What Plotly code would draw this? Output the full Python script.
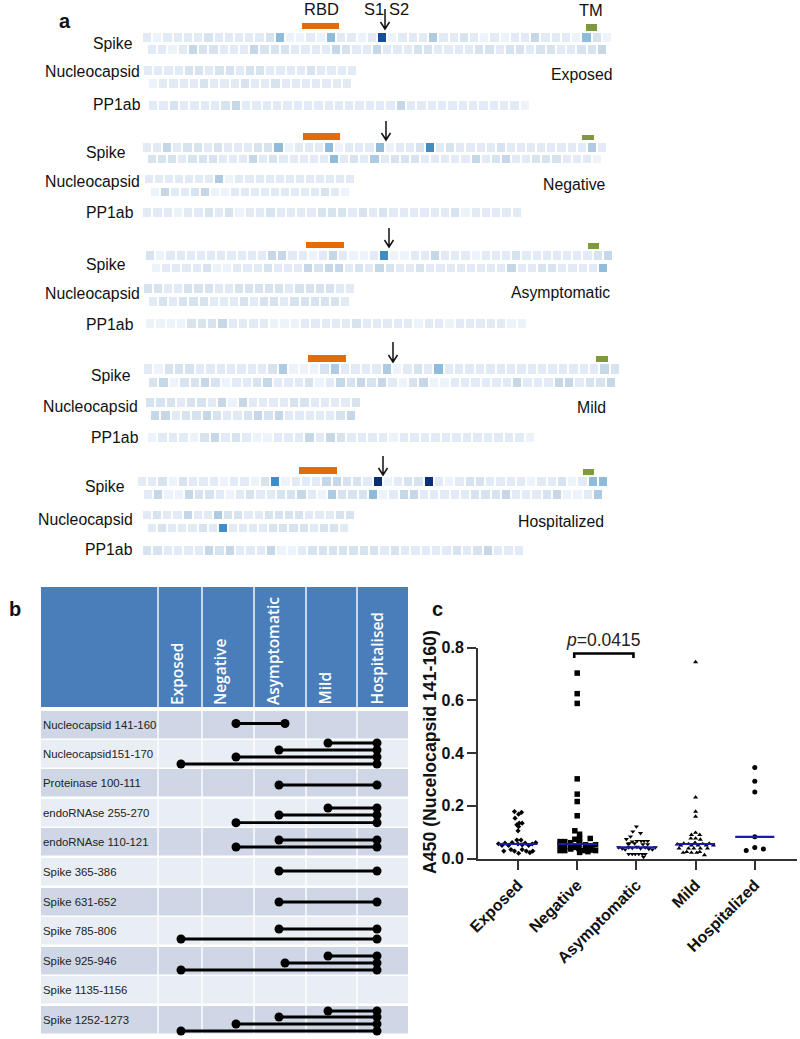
import plotly.graph_objects as go

# ---------- panel a: intensity levels (1 light .. 9 dark) ----------
exposed_spike_a = [2,1,2,2,2, 2,3,2,2,2, 2,2,3,6,1, 1,2,1,6,2, 2,1,2,8,1, 2,2,2,5,2, 2,3,2,1,2, 1,2,2,4,2, 2,2,1,6,3, 1]
exposed_spike_b = [2,2,1,2,4, 3,3,2,2,2, 4,3,3,3,2, 2,2,2,4,3, 2,2,4,2,2, 2,3,3,2,2, 2,2,3,3,2, 3,3,2,3,3, 2,2,3,3,4]
exposed_nuc_a = [2,2,2,2,3, 3,2,3,3,2, 3,3,2,2,2, 2,3,2,2,2, 2]
exposed_nuc_b = [1,2,2,2,2, 3,2,2,2,3, 2,2,3,2,2, 2,2,2,2,2]
exposed_pp = [2,2,3,2,2, 2,2,3,4,2, 2,2,2,2,2, 2,2,2,2,2, 2,2,2,2,4, 2,2,2,2,2, 2,2,2,2,2, 2,1]

negative_spike_a = [2,2,4,2,3, 3,2,3,2,2, 2,3,3,6,1, 2,2,2,6,1, 2,2,2,6,1, 2,2,3,7,2, 3,2,2,2,2, 3,2,2,2,2, 2,2,2,2,5, 2]
negative_spike_b = [3,3,3,2,3, 3,3,2,2,2, 4,2,3,2,2, 2,2,2,6,2, 3,2,5,2,3, 3,3,2,2,2, 2,2,4,2,3, 4,2,2,3,3, 3,2,2,2,1]
negative_nuc_a = [2,2,2,2,2, 2,2,5,1,2, 2,2,2,2,2, 2,2,2,2,2, 2]
negative_nuc_b = [1,4,2,2,3, 4,1,1,2,2, 2,2,2,2,2, 2,2,3,2,1]
negative_pp = [2,2,2,1,2, 2,3,2,3,1, 2,2,3,2,2, 2,2,3,3,3, 2,3,2,3,2, 2,2,2,2,2, 3,1,2,2,2, 2,2]

asympt_spike_a = [3,1,2,2,2, 2,2,2,2,2, 2,2,4,4,2, 2,1,2,4,2, 1,1,2,7,1, 1,2,2,4,2, 2,2,1,2,2, 2,3,2,2,2, 2,2,2,2,3, 4]
asympt_spike_b = [1,2,2,2,2, 3,1,1,2,2, 2,3,2,2,2, 4,3,4,4,2, 3,2,4,3,2, 2,3,2,2,2, 2,2,2,2,2, 4,2,2,3,3, 2,2,2,2,6]
asympt_nuc_a = [3,3,2,2,3, 3,3,2,2,3, 3,3,3,3,2, 3,3,3,3,2, 2]
asympt_nuc_b = [2,3,2,3,3, 3,2,2,2,3, 2,3,3,2,3, 3,3,3,3,2]
asympt_pp = [1,1,1,1,3, 3,3,4,2,2, 2,2,1,1,1, 2,2,2,2,2, 3,2,2,2,2, 2,1,2,2,1, 2,2,2,2,2, 1,1]

mild_spike_a = [2,1,3,3,3, 2,2,2,2,2, 2,2,3,5,1, 1,1,3,5,2, 2,2,2,5,1, 2,3,2,6,2, 2,2,2,2,2, 2,2,2,2,2, 2,2,2,2,4, 3]
mild_spike_b = [3,4,1,3,3, 4,3,1,2,2, 3,4,2,2,2, 3,1,2,4,3, 4,3,4,2,1, 3,4,1,1,2, 2,2,2,2,2, 4,2,2,2,4, 4,2,3,3,4]
mild_nuc_a = [3,3,3,2,3, 3,2,4,1,4, 2,2,2,2,3, 3,2,2,2,2, 3]
mild_nuc_b = [4,4,2,3,3, 4,3,2,2,3, 4,3,4,2,2, 2,2,2,3,4]
mild_pp = [1,2,2,2,1, 3,4,2,3,2, 1,1,2,2,2, 4,2,4,3,2, 2,2,2,1,2, 2,2,2,2,2, 2,2,2,2,2, 2,1]

hosp_spike_a = [2,2,3,1,3, 2,2,2,1,2, 2,1,3,7,1, 2,2,2,4,4, 3,3,2,9,1, 2,3,3,9,2, 1,2,3,3,2, 2,2,2,1,2, 2,3,1,2,6, 6]
hosp_spike_b = [2,4,1,1,4, 3,3,2,1,2, 3,2,2,3,3, 4,2,1,5,3, 3,3,6,1,2, 4,4,2,2,2, 2,2,3,3,3, 4,2,2,2,3, 4,1,1,2,5]
hosp_nuc_a = [2,3,2,2,4, 2,2,5,3,3, 2,2,3,3,3, 3,2,2,2,3, 3]
hosp_nuc_b = [2,3,2,2,2, 3,2,7,2,2, 2,2,3,3,3, 3,2,3,3,2]
hosp_pp = [3,3,2,2,2, 2,4,3,4,2, 2,2,4,1,1, 2,3,3,3,3, 3,3,3,2,3, 2,2,2,2,2, 3,2,3,4,2, 2,2]

level_colors = ["#ecf3fa", "#e2ebf5", "#d7e3ef", "#c6d7e7", "#aecbe2", "#8fbcdb", "#3f8cc6", "#164f9d", "#0b2f73"]

panel_rows = [
    [exposed_spike_a, exposed_spike_b, exposed_nuc_a, exposed_nuc_b, exposed_pp],
    [negative_spike_a, negative_spike_b, negative_nuc_a, negative_nuc_b, negative_pp],
    [asympt_spike_a, asympt_spike_b, asympt_nuc_a, asympt_nuc_b, asympt_pp],
    [mild_spike_a, mild_spike_b, mild_nuc_a, mild_nuc_b, mild_pp],
    [hosp_spike_a, hosp_spike_b, hosp_nuc_a, hosp_nuc_b, hosp_pp],
]
panel_names = ["Exposed", "Negative", "Asymptomatic", "Mild", "Hospitalized"]

# ---------- panel b ----------
peptides = ["Nucleocapsid 141-160", "Nucleocapsid151-170", "Proteinase 100-111", "endoRNAse 255-270",
            "endoRNAse 110-121", "Spike 365-386", "Spike 631-652", "Spike 785-806", "Spike 925-946",
            "Spike 1135-1156", "Spike 1252-1273"]
table_groups = ["Exposed", "Negative", "Asymptomatic", "Mild", "Hospitalised"]
significant_pairs = [
    ["Negative-Asymptomatic"],
    ["Mild-Hospitalised", "Asymptomatic-Hospitalised", "Negative-Hospitalised", "Exposed-Hospitalised"],
    ["Asymptomatic-Hospitalised"],
    ["Mild-Hospitalised", "Asymptomatic-Hospitalised", "Negative-Hospitalised"],
    ["Asymptomatic-Hospitalised", "Negative-Hospitalised"],
    ["Asymptomatic-Hospitalised"],
    ["Asymptomatic-Hospitalised"],
    ["Asymptomatic-Hospitalised", "Exposed-Hospitalised"],
    ["Mild-Hospitalised", "Asymptomatic-Hospitalised", "Exposed-Hospitalised"],
    [],
    ["Mild-Hospitalised", "Asymptomatic-Hospitalised", "Negative-Hospitalised", "Exposed-Hospitalised"],
]

# ---------- panel c ----------
c_categories = ["Exposed", "Negative", "Asymptomatic", "Mild", "Hospitalized"]
c_medians = [0.055, 0.055, 0.042, 0.055, 0.082]
exposed_offset = [-0.06,0.06,0.01,-0.05,0.07,0.02,-0.02,0.01,0.0,-0.02,0.05,
                  -0.33,-0.27,-0.22,-0.16,-0.1,0.0,0.07,0.12,0.18,0.24,0.3,
                  -0.24,-0.12,-0.06,0.01,0.07,0.14,0.2,0.25]
exposed_values = [0.178,0.175,0.168,0.153,0.134,0.134,0.128,0.121,0.105,0.07,0.07,
                  0.056,0.05,0.058,0.05,0.06,0.055,0.052,0.058,0.05,0.055,0.06,
                  0.028,0.034,0.028,0.02,0.034,0.028,0.022,0.028]
negative_offset = [0,0,0,0,0,0,0,-0.04,0.04,0.04,-0.04,0.22,
                   -0.29,-0.21,-0.29,-0.21,-0.11,-0.11,0.03,0.03,0.14,0.22,0.31,0.31,0.14,0.04,
                   -0.29,-0.21,-0.11,-0.04,0.04,0.1,0.18,0.25]
negative_values = [0.703,0.625,0.588,0.302,0.244,0.216,0.162,0.105,0.092,0.076,0.073,0.076,
                   0.064,0.064,0.05,0.045,0.044,0.06,0.038,0.055,0.052,0.045,0.052,0.03,0.038,0.062,
                   0.03,0.03,0.036,0.042,0.023,0.03,0.026,0.032]
asympt_offset = [0,-0.06,0.07,-0.1,-0.17,-0.07,-0.12,0.01,0.08,0.13,0.19,-0.14,-0.03,0.11,0.19,
                 -0.3,-0.24,-0.19,-0.13,-0.07,0.01,0.07,0.15,0.21,0.27,0.32,
                 -0.13,-0.07,-0.02,0.04,0.1,0.15,0.12]
asympt_values = [0.121,0.102,0.096,0.083,0.073,0.064,0.057,0.066,0.066,0.066,0.066,0.055,0.057,0.054,0.054,
                 0.042,0.038,0.034,0.042,0.04,0.044,0.038,0.042,0.036,0.034,0.042,
                 0.017,0.017,0.017,0.017,0.017,0.017,0.006]
mild_offset = [0,0,0,0,0,-0.07,0.07,-0.08,0,0.08,
               -0.31,-0.25,-0.2,-0.12,-0.07,-0.01,0.04,0.12,0.18,0.23,0.3,
               -0.28,-0.12,-0.03,0.08,0.2,-0.21,-0.15,-0.07,0.02,0.07,0.15]
mild_values = [0.745,0.232,0.178,0.159,0.098,0.09,0.09,0.076,0.076,0.072,
               0.054,0.05,0.057,0.055,0.05,0.06,0.05,0.055,0.05,0.057,0.05,
               0.038,0.038,0.038,0.038,0.038,0.022,0.025,0.022,0.022,0.025,0.013]
hosp_offset = [0,0,0,0,0,-0.145,0.145]
hosp_values = [0.345,0.293,0.252,0.082,0.042,0.03,0.036]
c_offsets = [exposed_offset, negative_offset, asympt_offset, mild_offset, hosp_offset]
c_values = [exposed_values, negative_values, asympt_values, mild_values, hosp_values]
c_symbols = ["diamond", "square", "triangle-down", "triangle-up", "circle"]
c_sizes = [4, 5.5, 4.5, 4.5, 5]
y_ticks = [0.0, 0.2, 0.4, 0.6, 0.8]
p_label = "<i>p</i>=0.0415"

# ---------- page geometry ----------
W, H = 800, 1039
SANS = "Liberation Sans"
row_boxes = [
    [(142,612,33,42),(147,607,45,54),(143,357,66,75),(148,352,79,88),(148,530,101,110)],
    [(142,607,143,152),(147,602,155,163),(144,355,175,183),(150,350,188,196),(142,522,208,217)],
    [(145,613,251,260),(151,608,264,272),(143,355,284,293),(148,350,297,306),(145,527,319,328)],
    [(143,620,364,374),(148,616,378,387),(145,361,398,407),(150,356,411,420),(147,535,433,442)],
    [(137,608,477,486),(143,603,490,499),(142,355,511,519),(147,349,524,532),(142,524,546,555)],
]
rbd_boxes = [(302,339,23,29),(303,340,133,140),(306,344,242,248),(308,346,355,362),(299,337,467,474)]
tm_boxes = [(586,597,24,31),(582,594,135,140),(588,599,243,249),(596,608,356,362),(583,594,469,475)]
arrows = [(385,9,29),(386,121,140),(389,228,247),(393,342,362),(383,456,475)]
row_labels = [
    [("Spike",92,43),("Nucleocapsid",44,71),("PP1ab",92,104)],
    [("Spike",85,152),("Nucleocapsid",44,181),("PP1ab",85,212)],
    [("Spike",85,264),("Nucleocapsid",44,293),("PP1ab",85,324)],
    [("Spike",90,375),("Nucleocapsid",42,406),("PP1ab",90,437)],
    [("Spike",84,486),("Nucleocapsid",37,519),("PP1ab",84,549)],
]
name_pos = [(612,74),(606,184),(610,292),(606,407),(604,521)]

fig = go.Figure()
shapes, annos = [], []

def text(s, x, y, size=15.8, anchor="left", color="#111", family=SANS, bold=False, angle=0, yanchor="middle", weight=None):
    annos.append(dict(text=s, x=x, y=y, xref="x", yref="y", showarrow=False, xanchor=anchor, yanchor=yanchor,
                      textangle=angle, borderpad=0,
                      font=dict(family=family, size=size, color=color,
                                weight=weight or ("bold" if bold else "normal"))))

def rect(x0, x1, y0, y1, color, layer="below"):
    shapes.append(dict(type="rect", xref="x", yref="y", x0=x0, x1=x1, y0=y0, y1=y1,
                       fillcolor=color, line_width=0, layer=layer))

# panel a
for p, rows in enumerate(panel_rows):
    for vals, (x0, x1, y0, y1) in zip(rows, row_boxes[p]):
        dx = (x1 - x0) / len(vals)
        fig.add_trace(go.Heatmap(z=[vals], x0=x0 + dx / 2, dx=dx, y0=(y0 + y1) / 2, dy=y1 - y0,
                                 coloraxis="coloraxis", xgap=2, ygap=0, hoverinfo="skip",
                                 xaxis="x", yaxis="y"))
    rect(*rbd_boxes[p], "#e36c0a")
    rect(*tm_boxes[p], "#7f9a3c")
    ax, ay0, ay1 = arrows[p]
    shapes.append(dict(type="path", xref="x", yref="y",
                       path=f"M{ax},{ay0} L{ax},{ay1} M{ax-4.5},{ay1-7} L{ax},{ay1} L{ax+4.5},{ay1-7}",
                       line=dict(color="#111", width=1.5)))
    for s, x, y in row_labels[p]:
        text(s, x, y)
    nx, ny = name_pos[p]
    text(panel_names[p], nx + 1, ny, anchor="right")
text("RBD", 321, 9, size=16.5, anchor="center")
text("S1", 363, 9, size=16.5)
text("S2", 388, 9, size=16.5)
text("TM", 591, 10, size=16.5, anchor="center")
text("a", 65, 21, size=20, anchor="center", bold=True)
text("b", 15, 609, size=20, anchor="center", bold=True)
text("c", 437, 609, size=20, anchor="center", bold=True)

# panel b
T_L, T_R, HEAD_T, HEAD_B = 41, 408, 587, 707
row_tops = [711, 740, 769, 799, 828, 858, 888, 917, 947, 976, 1006]
ROW_H = 27.5
col_bounds = [158, 202, 254, 306, 357]
col_text_x = [177, 220, 273, 324, 376]
group_x = dict(zip(table_groups, [181, 236, 279, 328, 377]))
asym_shift_rows = {0, 8}
line_offsets = [[12.5], [3, 10, 17, 24], [16], [9, 16, 23.7], [12, 19], [13], [14],
                [12, 22], [9, 16, 23], [], [5, 11, 18, 25]]
rect(T_L, T_R, HEAD_T, HEAD_B, "#4a7ebb")
for i, (name, top) in enumerate(zip(peptides, row_tops)):
    rect(T_L, T_R, top, top + ROW_H, "#cfd7e6" if i % 2 == 0 else "#e9edf4")
    text(name, T_L + 0.5, top + 13.5, size=11.4, color="#222")
for cb in col_bounds:
    rect(cb - 0.7, cb + 0.7, HEAD_T, row_tops[-1] + ROW_H, "#ffffff")
for g, x in zip(table_groups, col_text_x):
    text(g, x, HEAD_B - 1, size=15.5, anchor="center", color="#ffffff", family="Open Sans",
         angle=-90, yanchor="bottom", weight=600)

conn_x, conn_y = [], []
for i, pairs in enumerate(significant_pairs):
    for pair, off in zip(pairs, line_offsets[i]):
        a, b = pair.split("-")
        xa, xb = group_x[a], group_x[b]
        if i in asym_shift_rows:
            xa += 6 if a == "Asymptomatic" else 0
            xb += 6 if b == "Asymptomatic" else 0
        conn_x += [xa, xb, None]
        conn_y += [row_tops[i] + off] * 2 + [None]
fig.add_trace(go.Scatter(x=conn_x, y=conn_y, mode="lines+markers", line=dict(color="#000", width=2.8),
                         marker=dict(color="#000", size=9), hoverinfo="skip", xaxis="x", yaxis="y"))

# panel c
for i, (offs, vals) in enumerate(zip(c_offsets, c_values)):
    fig.add_trace(go.Scatter(x=[i + o for o in offs], y=vals, mode="markers", cliponaxis=False,
                             marker=dict(symbol=c_symbols[i], size=c_sizes[i], color="#000"),
                             hoverinfo="skip", xaxis="x2", yaxis="y2"))
for i, m in enumerate(c_medians):
    fig.add_trace(go.Scatter(x=[i - 0.33, i + 0.33], y=[m, m], mode="lines", cliponaxis=False,
                             line=dict(color="#1a1aa8", width=2.2), hoverinfo="skip", xaxis="x2", yaxis="y2"))
fig.add_trace(go.Scatter(x=[0.95, 0.95, 1.95, 1.95], y=[0.76, 0.777, 0.777, 0.76], mode="lines", cliponaxis=False,
                         line=dict(color="#000", width=2.6), hoverinfo="skip", xaxis="x2", yaxis="y2"))
text(p_label, 603, 640, size=17.5, anchor="center", color="#222")
text("A450 (Nucelocapsid 141-160)", 430, 752, size=17.7, anchor="center", bold=True, angle=-90)

fig.update_layout(
    width=W, height=H, margin=dict(l=0, r=0, t=0, b=0, autoexpand=False), showlegend=False,
    paper_bgcolor="#ffffff", plot_bgcolor="rgba(0,0,0,0)",
    coloraxis=dict(showscale=False, cmin=1, cmax=9,
                   colorscale=[[k / 8, c] for k, c in enumerate(level_colors)]),
    xaxis=dict(range=[0, W], domain=[0, 1], visible=False, fixedrange=True),
    yaxis=dict(range=[H, 0], domain=[0, 1], visible=False, fixedrange=True),
    xaxis2=dict(domain=[478 / W, 797 / W], range=[-0.676, 4.713], anchor="y2",
                tickmode="array", tickvals=list(range(5)), ticktext=c_categories,
                tickangle=-45, ticks="outside", ticklen=9, tickwidth=2, tickcolor="#333",
                showline=True, linecolor="#333", linewidth=2, showgrid=False, zeroline=False,
                tickfont=dict(family=SANS, size=16, color="#111", weight="bold"), fixedrange=True),
    yaxis2=dict(domain=[(H - 858.5) / H, (H - 647.5) / H], range=[0, 0.8], anchor="x2",
                tickmode="array", tickvals=y_ticks, tickformat=".1f",
                ticks="outside", ticklen=9, tickwidth=2, tickcolor="#333",
                showline=True, linecolor="#333", linewidth=2, showgrid=False, zeroline=False,
                tickfont=dict(family=SANS, size=16, color="#111", weight="bold"), fixedrange=True),
    shapes=shapes, annotations=annos,
)
fig.write_html("out.html", config=dict(displayModeBar=False),
               post_script="document.body.style.margin='0';")
